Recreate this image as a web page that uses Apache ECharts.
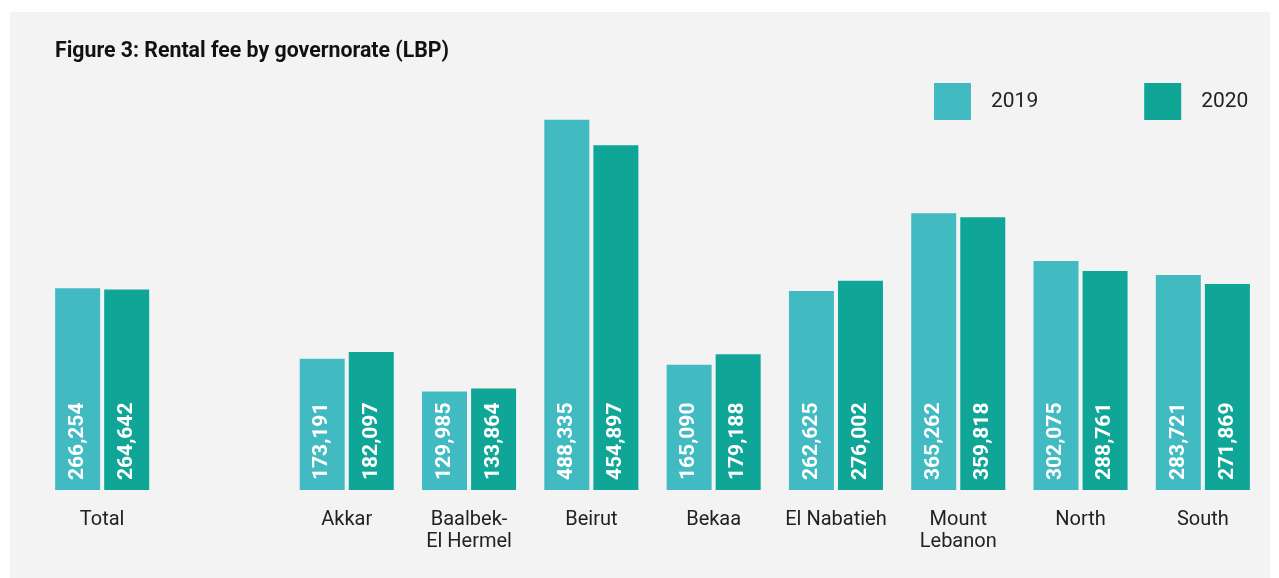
<!DOCTYPE html>
<html>
<head>
<meta charset="utf-8">
<title>Rental fee by governorate</title>
<script src="https://cdn.jsdelivr.net/npm/echarts@6/dist/echarts.min.js"></script>
<style>
    html, body { margin: 0; padding: 0; background: #ffffff; }
    #chart { width: 1279px; height: 578px; }
</style>
</head>
<body>
<div id="chart"></div>
<script>
    // data (empty slot between Total and Akkar)
    var categories = ['Total', '', 'Akkar', 'Baalbek-\nEl Hermel', 'Beirut', 'Bekaa', 'El Nabatieh', 'Mount\nLebanon', 'North', 'South'];
    var fee2019 = [266254, null, 173191, 129985, 488335, 165090, 262625, 365262, 302075, 283721];
    var fee2020 = [264642, null, 182097, 133864, 454897, 179188, 276002, 359818, 288761, 271869];

    var chart = echarts.init(document.getElementById('chart'));

    function barLabel() {
        return {
            show: true,
            position: 'insideBottom',
            rotate: 90,
            align: 'left',
            verticalAlign: 'middle',
            distance: 10,
            color: '#ffffff',
            fontFamily: 'Roboto',
            fontWeight: 'bold',
            fontSize: 21,
            formatter: function (p) {
                return p.value == null ? '' : p.value.toLocaleString('en-US');
            }
        };
    }

    var option = {
        backgroundColor: '#ffffff',
        animation: false,
        graphic: [{
            type: 'rect',
            left: 10, top: 12,
            shape: { width: 1260, height: 566 },
            style: { fill: '#f3f3f3' },
            z: -10
        }],
        title: {
            text: 'Figure 3: Rental fee by governorate (LBP)',
            left: 50,
            top: 36,
            textStyle: { fontFamily: 'Roboto', fontWeight: 'bold', fontSize: 21.3, color: '#111111' }
        },
        legend: {
            left: 934,
            top: 83,
            padding: 0,
            itemWidth: 37,
            itemHeight: 37,
            itemGap: 106,
            icon: 'rect',
            textStyle: { fontFamily: 'Roboto', fontSize: 21, color: '#222222', padding: [0, 0, 0, 15] },
            data: ['2019', '2020']
        },
        grid: { left: 41, right: 15, top: 111, bottom: 88 },
        xAxis: {
            type: 'category',
            data: categories,
            axisLine: { show: false },
            axisTick: { show: false },
            axisLabel: {
                interval: 0,
                margin: 19,
                fontFamily: 'Roboto',
                fontSize: 20,
                lineHeight: 22,
                color: '#222222'
            }
        },
        yAxis: {
            type: 'value',
            min: 0,
            max: 500000,
            show: false,
            splitLine: { show: false }
        },
        series: [
            {
                name: '2019',
                type: 'bar',
                data: fee2019,
                barWidth: 45,
                barGap: '9%',
                itemStyle: { color: '#42bac1' },
                label: barLabel()
            },
            {
                name: '2020',
                type: 'bar',
                data: fee2020,
                barWidth: 45,
                itemStyle: { color: '#10a697' },
                label: barLabel()
            }
        ]
    };

    chart.setOption(option);
</script>
</body>
</html>
